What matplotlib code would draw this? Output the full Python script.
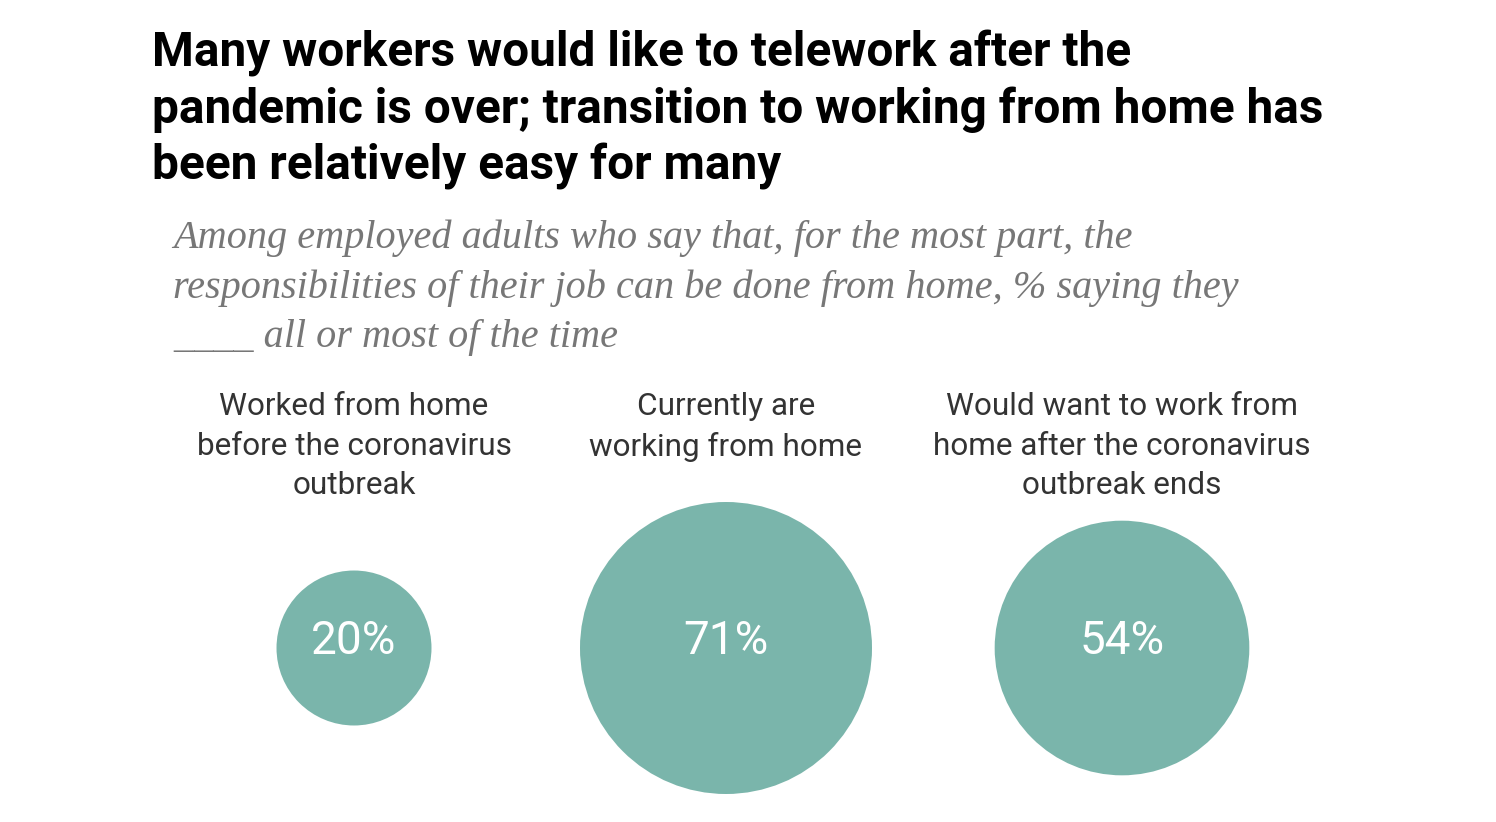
import numpy as np
import matplotlib.pyplot as plt
from matplotlib.patches import Circle

# data
labels = [
    "Worked from home\nbefore the coronavirus\noutbreak",
    "Currently are\nworking from home",
    "Would want to work from\nhome after the coronavirus\noutbreak ends",
]
values = [20, 71, 54]

title = ("Many workers would like to telework after the\n"
         "pandemic is over; transition to working from home has\n"
         "been relatively easy for many")
subtitle = ("Among employed adults who say that, for the most part, the\n"
            "responsibilities of their job can be done from home, % saying they\n"
            "____ all or most of the time")

teal = "#7ab5ab"

fig = plt.figure(figsize=(14.96, 8.22), dpi=100)
ax = fig.add_axes([0, 0, 1, 1])
ax.set_xlim(0, 1496)
ax.set_ylim(822, 0)
ax.set_aspect("equal")
ax.axis("off")

ax.text(152, 30, title, fontsize=34.4, fontweight="bold", family="Roboto",
        va="top", ha="left", color="black", linespacing=1.27)
ax.text(173, 219, subtitle, fontsize=29, style="italic", family="Liberation Serif",
        va="top", ha="left", color="#777777", linespacing=1.45)

# circles sized by area
centers_x = [354, 726, 1122]
cy = 648
k = 146 / np.sqrt(max(values))
for x, v, lab in zip(centers_x, values, labels):
    r = k * np.sqrt(v)
    ax.add_patch(Circle((x, cy), r, color=teal, ec="none"))
    ax.text(x, cy - 7, f"{v}%", fontsize=33, color="white", ha="center", va="center",
            family="Roboto")
    ax.text(x, 392, lab, fontsize=22.7, color="#333333", ha="center", va="top",
            family="Roboto", linespacing=1.46)

fig.savefig("out.png", dpi=100, facecolor="white")
